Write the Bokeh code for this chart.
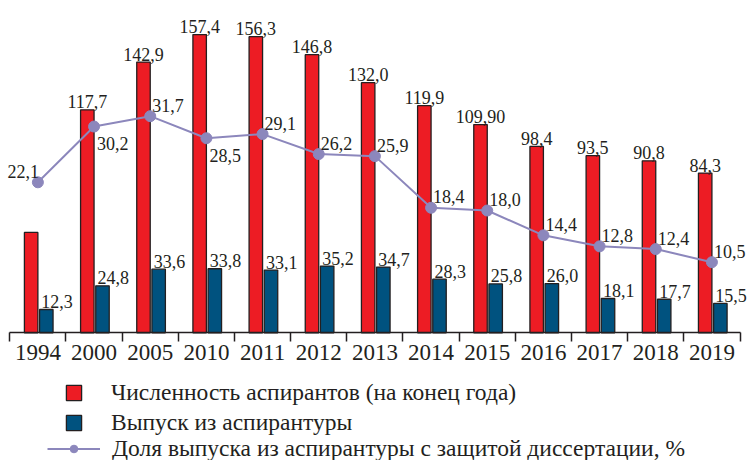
from bokeh.plotting import figure
from bokeh.models import (Range1d, LinearAxis, FixedTicker, ColumnDataSource,
                          Legend, LegendItem)
from bokeh.transform import dodge
from bokeh.embed import file_html
from bokeh.resources import INLINE
from bokeh.core.properties import value
import numpy as np

# ---------------- data ----------------
years = ["1994", "2000", "2005", "2010", "2011", "2012", "2013",
         "2014", "2015", "2016", "2017", "2018", "2019"]
students = [53.0, 117.7, 142.9, 157.4, 156.3, 146.8, 132.0,
            119.9, 109.9, 98.4, 93.5, 90.8, 84.3]
students_labels = ["", "117,7", "142,9", "157,4", "156,3", "146,8", "132,0",
                   "119,9", "109,90", "98,4", "93,5", "90,8", "84,3"]
graduates = [12.3, 24.8, 33.6, 33.8, 33.1, 35.2, 34.7,
             28.3, 25.8, 26.0, 18.1, 17.7, 15.5]
graduates_labels = ["12,3", "24,8", "33,6", "33,8", "33,1", "35,2", "34,7",
                    "28,3", "25,8", "26,0", "18,1", "17,7", "15,5"]
share = [22.1, 30.2, 31.7, 28.5, 29.1, 26.2, 25.9,
         18.4, 18.0, 14.4, 12.8, 12.4, 10.5]
share_labels = ["22,1", "30,2", "31,7", "28,5", "29,1", "26,2", "25,9",
                "18,4", "18,0", "14,4", "12,8", "12,4", "10,5"]

legend_labels = ["Численность аспирантов (на конец года)",
                 "Выпуск из аспирантуры",
                 "Доля выпуска из аспирантуры с защитой диссертации, %"]

# label placement (style) for the share labels
share_left = {"1994"}
share_below = {"2000", "2010"}

# ---------------- style ----------------
FONT = "Liberation Serif"
INK = "#231F20"
RED = "#ED1C24"
BLUE = "#00527F"
PURPLE = "#8C87BC"

n = len(years)
pos = list(np.arange(n) + 0.5)

src = ColumnDataSource(dict(x=pos, year=years, students=students,
                            students_labels=students_labels,
                            graduates=graduates, graduates_labels=graduates_labels,
                            share=share, share_labels=share_labels))

W, H = 749, 460
p = figure(width=W, height=H, output_backend="svg", toolbar_location=None,
           x_range=Range1d(-0.1656, 13.169), y_range=Range1d(-67.4, 175.4),
           x_axis_location=None, y_axis_location=None,
           min_border_left=0, min_border_right=0,
           min_border_top=0, min_border_bottom=0)
p.outline_line_color = None
p.grid.visible = False
p.background_fill_color = None
p.border_fill_color = "white"
p.extra_y_ranges = {"share": Range1d(-18.3, 48.5)}

xaxis = LinearAxis(
    ticker=FixedTicker(ticks=pos, minor_ticks=list(range(n + 1))),
    major_label_overrides={float(x): y for x, y in zip(pos, years)},
    bounds=(0, n), fixed_location=0,
    major_tick_out=0, major_tick_in=0,
    minor_tick_out=9, minor_tick_in=0,
    axis_line_color=INK, axis_line_width=1.5,
    minor_tick_line_color=INK, minor_tick_line_width=1.5,
    major_label_text_font=FONT, major_label_text_font_size="23px",
    major_label_text_color=INK, major_label_standoff=3)
p.add_layout(xaxis, "below")

red_r = p.vbar(x=dodge("x", -0.12), top="students", width=0.24, source=src,
               fill_color=RED, line_color=INK, line_width=1.3)
blue_r = p.vbar(x=dodge("x", 0.15), top="graduates", width=0.24, source=src,
                fill_color=BLUE, line_color=INK, line_width=1.3)

line_r = p.line(x="x", y="share", source=src, y_range_name="share",
                line_color=PURPLE, line_width=2)
dot_r = p.scatter(x="x", y="share", source=src, y_range_name="share",
                  size=11, fill_color=PURPLE, line_color=PURPLE)

lab_kw = dict(text_font=value(FONT), text_font_size="18px", text_color=INK,
              text_baseline="alphabetic")

p.text(x=dodge("x", -0.12), y="students", text="students_labels", source=src,
       text_align="center", y_offset=-8, **lab_kw)
p.text(x=dodge("x", 0.15), y="graduates", text="graduates_labels", source=src,
       text_align="left", x_offset=-5, y_offset=-8, **lab_kw)

def subset(keep):
    idx = [i for i, y in enumerate(years) if keep(y)]
    return ColumnDataSource(dict(x=[pos[i] for i in idx],
                                 share=[share[i] for i in idx],
                                 share_labels=[share_labels[i] for i in idx]))

above = subset(lambda y: y not in share_left and y not in share_below)
left = subset(lambda y: y in share_left)
below = subset(lambda y: y in share_below)

p.text(x="x", y="share", text="share_labels", source=above, y_range_name="share",
       text_align="left", x_offset=2, y_offset=-11, **lab_kw)
p.text(x="x", y="share", text="share_labels", source=left, y_range_name="share",
       text_align="right", x_offset=1, y_offset=-11, **lab_kw)
p.text(x="x", y="share", text="share_labels", source=below, y_range_name="share",
       text_align="left", x_offset=3, y_offset=17, **lab_kw)

leg_kw = dict(padding=0, margin=0, border_line_color=None,
              background_fill_alpha=0, label_text_font=FONT,
              label_text_font_size="23.5px", label_text_color=INK)

legA = Legend(items=[LegendItem(label=legend_labels[0], renderers=[red_r]),
                     LegendItem(label=legend_labels[1], renderers=[blue_r])],
              location=(64, 23), glyph_width=19, glyph_height=19,
              label_height=29, spacing=1, label_standoff=28, **leg_kw)
legB = Legend(items=[LegendItem(label=legend_labels[2], renderers=[line_r, dot_r])],
              location=(47, -3), glyph_width=53, glyph_height=19,
              label_height=29, spacing=0, label_standoff=12, **leg_kw)
p.add_layout(legA)
p.add_layout(legB)

open("out.html", "w").write(file_html(p, INLINE))
